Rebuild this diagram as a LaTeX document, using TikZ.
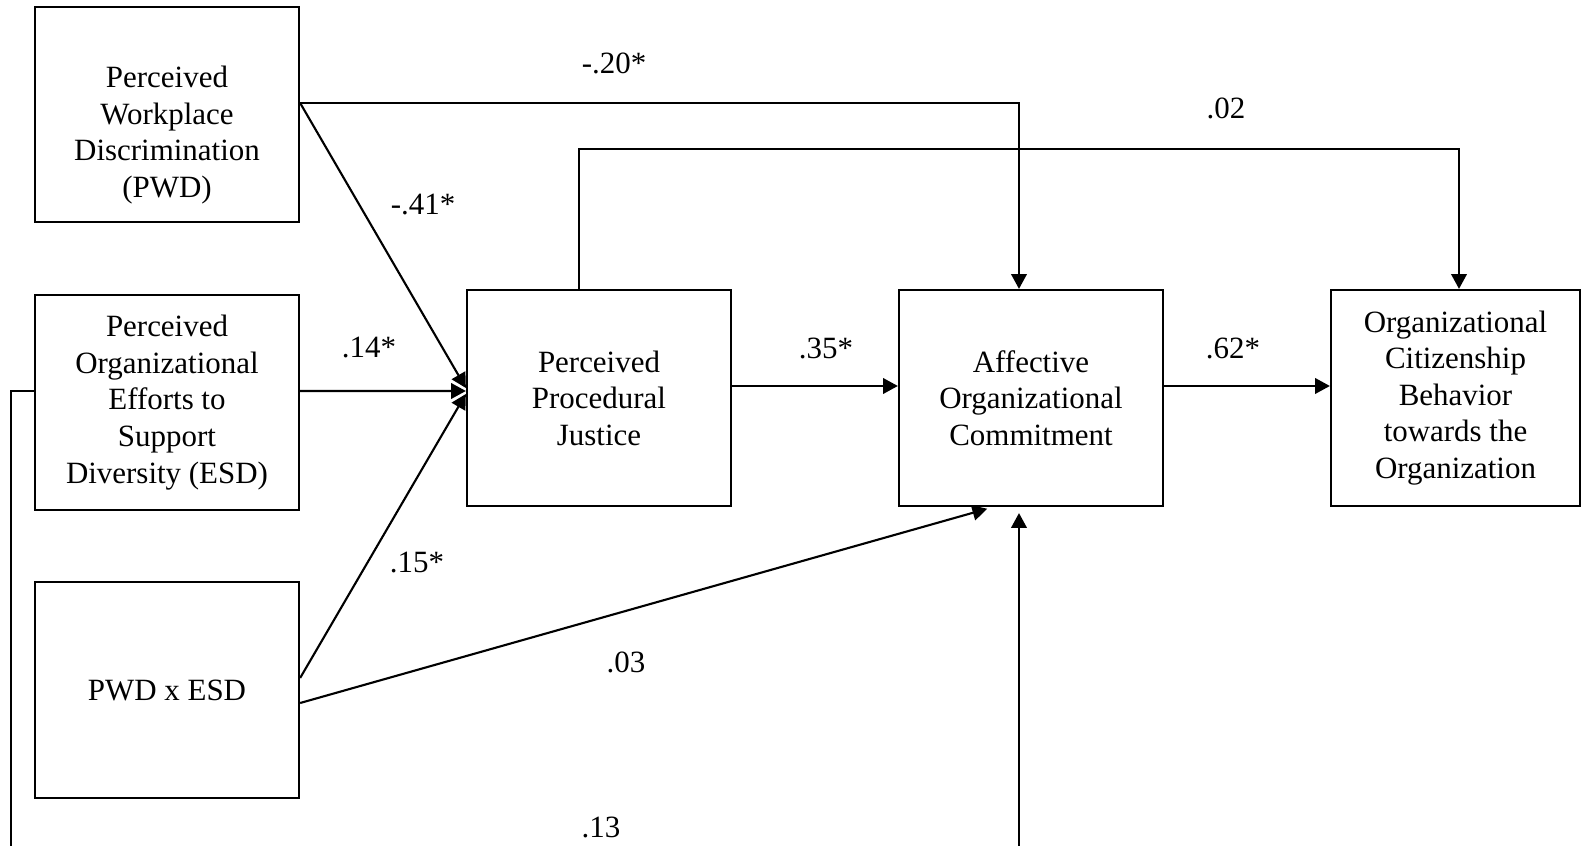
\documentclass[tikz,border=0pt]{standalone}
\usepackage{fontspec}
\setmainfont{Liberation Serif}
\usetikzlibrary{arrows.meta}

\begin{document}
\begin{tikzpicture}[x=0.01cm,y=-0.01cm,>={Triangle[length=4.2pt,width=4.4pt]},line width=0.6pt,
font=\fontsize{8.8}{10.4}\selectfont,
var/.style={draw,rectangle,align=center,minimum width=2.64cm,minimum height=2.15cm,inner sep=0pt},
coef/.style={inner sep=1pt}]
\useasboundingbox (0,0) rectangle (1581,846);
\clip (0,0) rectangle (1581,846);
% predictors
\node[var] (PWD) at (167,114.5) {\strut\\Perceived\\Workplace\\Discrimination\\(PWD)};
\node[var] (ESD) at (167,402.5) {Perceived\\Organizational\\Efforts to\\Support\\Diversity (ESD)};
\node[var] (INT) at (167,690) {PWD x ESD};
% mediators and outcome
\node[var,minimum height=2.16cm] (PPJ) at (599,398) {Perceived\\Procedural\\Justice};
\node[var,minimum height=2.16cm] (AOC) at (1031,398) {Affective\\Organizational\\Commitment};
\node[var,minimum height=2.16cm,minimum width=2.49cm] (OCB) at (1455.5,398) {Organizational\\Citizenship\\Behavior\\towards the\\Organization};

\draw[->] ([yshift=0.115cm]PWD.east) -| ([xshift=-0.12cm]AOC.north);
\draw[->] ([yshift=0.115cm]PWD.east) -- ([yshift=0.1cm]PPJ.west);
\draw[->] ([yshift=0.115cm]ESD.east) -- ([yshift=0.07cm]PPJ.west);
\draw[->] ([yshift=0.12cm]INT.east) -- ([yshift=0.04cm]PPJ.west);
\draw[->,shorten >=1.7pt] ([yshift=-0.13cm]INT.east) -- ([xshift=-0.38cm]AOC.south);
\draw[->] ([xshift=-0.2cm]PPJ.north) -- ++(0,-140) -| ([xshift=0.035cm]OCB.north);
\draw[->] ([yshift=0.12cm]PPJ.east) -- ([yshift=0.12cm]AOC.west);
\draw[->] ([yshift=0.12cm]AOC.east) -- ([yshift=0.12cm]OCB.west);
\coordinate (low) at (11,900);
\draw[->,shorten >=1.7pt] ([yshift=0.115cm]ESD.west) -| (low) -| ([xshift=-0.12cm]AOC.south);

% path coefficients
\node[coef] (c20) at (614,63) {-.20*};
\node[coef] (c02) at (1226,108) {.02};
\node[coef] (c41) at (423,205) {-.41*};
\node[coef] (c14) at (369,348) {.14*};
\node[coef] (c35) at (826,348) {.35*};
\node[coef] (c62) at (1233,348) {.62*};
\node[coef] (c15) at (417,563) {.15*};
\node[coef] (c03) at (626,662) {.03};
\node[coef] (c13) at (601,827) {.13};
\end{tikzpicture}
\end{document}
